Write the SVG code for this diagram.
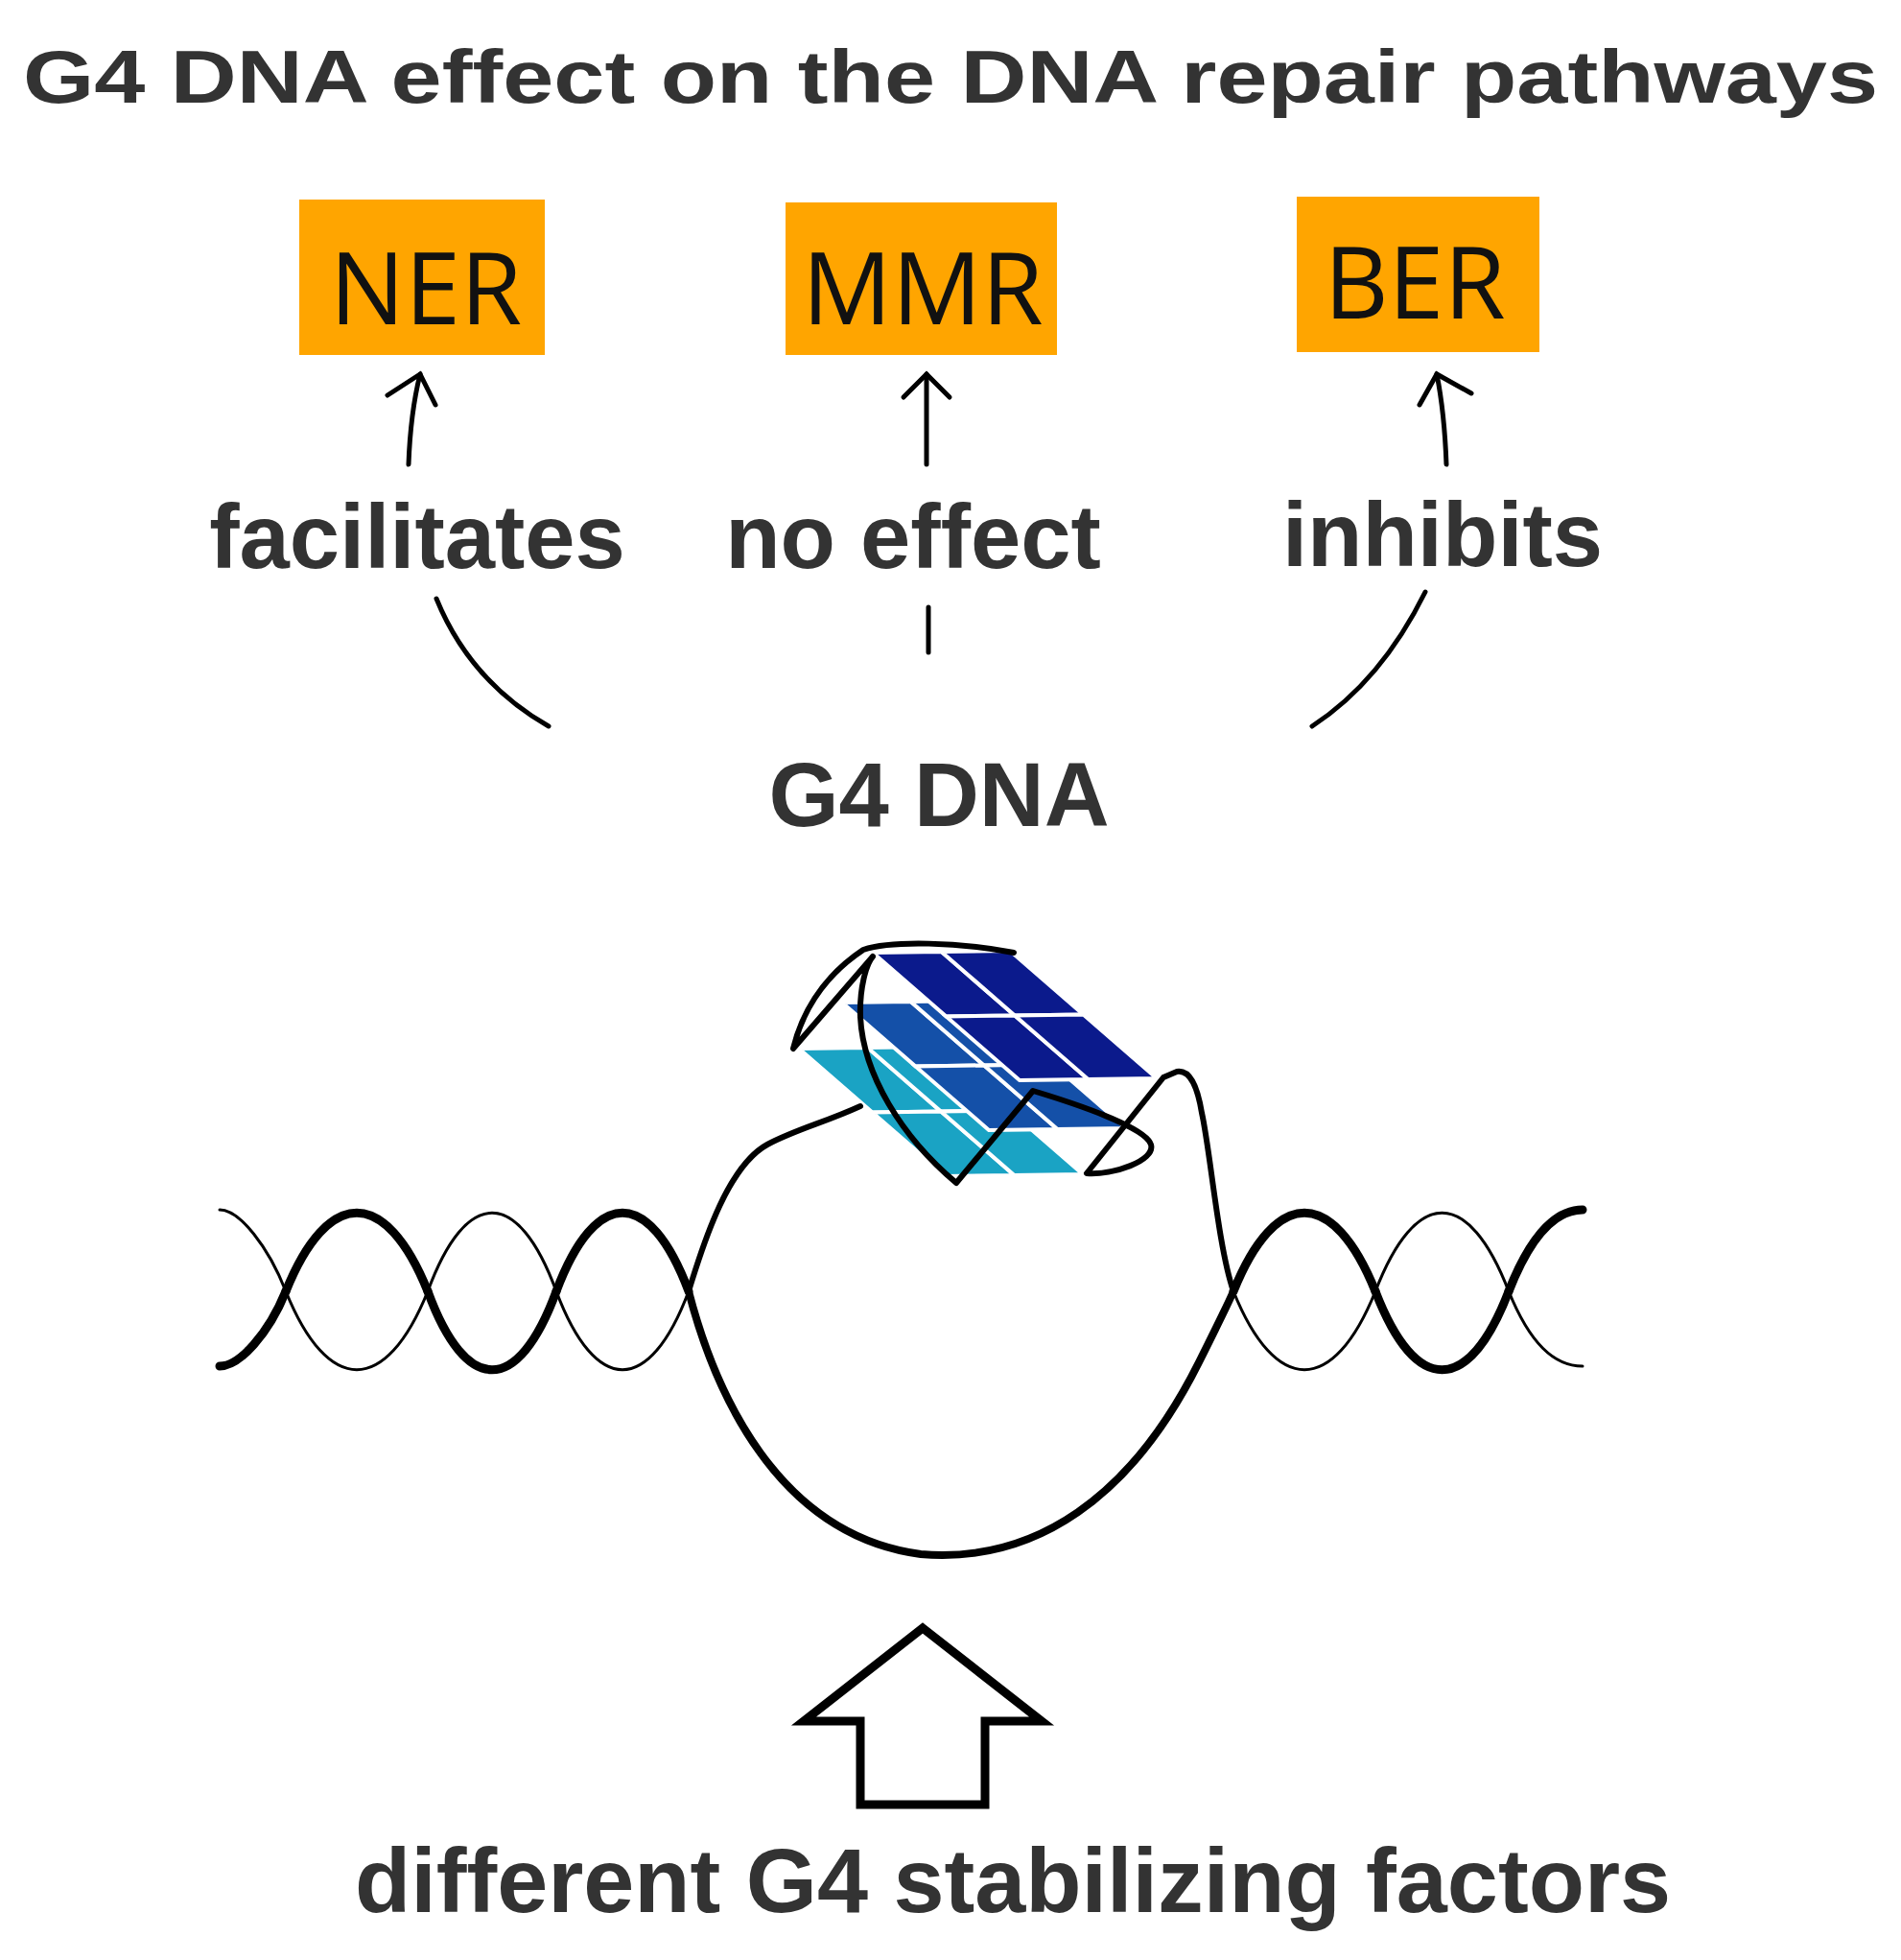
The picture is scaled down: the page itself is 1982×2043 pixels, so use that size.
<svg xmlns="http://www.w3.org/2000/svg" width="1982" height="2043" viewBox="0 0 1982 2043">
<style>
.lbl{font-family:"Liberation Sans",Arial,sans-serif;font-weight:bold;fill:#333;text-anchor:middle}
.box{fill:#ffa500}
.bt{font-family:"Open Sans","Liberation Sans",sans-serif;font-size:104px;fill:#111;text-anchor:middle}
.ln{fill:none;stroke:#000;stroke-width:5;stroke-linecap:round}
.s{fill:none;stroke:#000;stroke-linecap:round;stroke-linejoin:round}
.tile{stroke:#fff;stroke-width:4}
</style>
<defs>
<marker id="ah" markerWidth="20" markerHeight="20" refX="10" refY="10" orient="auto" markerUnits="userSpaceOnUse" viewBox="0 0 20 20">
<polyline points="0,0 10,10 0,20" transform="translate(-3,0) scale(1)" fill="none" stroke="#000" stroke-width="0"/>
</marker>
<g id="tier">
<polygon class="tile" points="0,0 71.5,-1 148,65.5 76.5,66.5"/>
<polygon class="tile" points="71.5,-1 143,-2 219.5,64.5 148,65.5"/>
<polygon class="tile" points="76.5,66.5 148,65.5 224.5,132 153,133"/>
<polygon class="tile" points="148,65.5 219.5,64.5 296,131 224.5,132"/>
</g>
</defs>
<rect width="1982" height="2043" fill="#fff"/>
<text id="title" class="lbl" x="991" y="107" font-size="78" textLength="1934" lengthAdjust="spacingAndGlyphs">G4 DNA effect on the DNA repair pathways</text>
<g id="ner"><rect class="box" x="312" y="208" width="256" height="162"/><text class="bt" x="444" y="338">NER</text></g>
<g id="mmr"><rect class="box" x="819" y="211" width="283" height="159"/><text class="bt" x="962" y="338">MMR</text></g>
<g id="ber"><rect class="box" x="1352" y="205" width="253" height="162"/><text class="bt" x="1475" y="332">BER</text></g>
<g id="labels">
<text class="lbl" x="435" y="592" font-size="94">facilitates</text>
<text class="lbl" x="952" y="592" font-size="94">no effect</text>
<text class="lbl" x="1504" y="590" font-size="94">inhibits</text>
<text class="lbl" x="979" y="861" font-size="94">G4 DNA</text>
<text class="lbl" x="1056" y="1993" font-size="94" textLength="1372" lengthAdjust="spacingAndGlyphs">different G4 stabilizing factors</text>
</g>
<g id="connectors">
<path class="ln" d="M426,484 Q428,430 438,390"/>
<polyline class="ln" points="404,412 438,390 454,422"/>
<path class="ln" d="M966,484 L966,390"/>
<polyline class="ln" points="942,414 966,390 990,414"/>
<path class="ln" d="M1508,484 Q1506,430 1498,390"/>
<polyline class="ln" points="1480,422 1498,390 1534,410"/>
<path class="ln" d="M455,624 Q490,710 572,757"/>
<path class="ln" d="M968,633 L968,680"/>
<path class="ln" d="M1486,617 Q1440,710 1368,757"/>
<path d="M962,1697 L1086,1794 L1027,1794 L1027,1881 L897,1881 L897,1794 L838,1794 Z" fill="none" stroke="#000" stroke-width="9" stroke-linejoin="miter"/>
</g>
<g id="helix-left">
<path class="s" stroke-width="9" d="M229,1424 C250,1424 280,1390 298,1346"/>
<path class="s" stroke-width="3" d="M229,1261 C250,1261 280,1300 298,1346"/>
<path class="s" stroke-width="9" d="M298,1346 C342,1237 402,1237 446,1346"/>
<path class="s" stroke-width="3" d="M298,1346 C342,1455 402,1455 446,1346"/>
<path class="s" stroke-width="9" d="M446,1346 C486,1455 540,1455 580,1346"/>
<path class="s" stroke-width="3" d="M446,1346 C486,1237 540,1237 580,1346"/>
<path class="s" stroke-width="9" d="M580,1346 C621,1237 677,1237 718,1346"/>
<path class="s" stroke-width="3" d="M580,1346 C621,1455 677,1455 718,1346"/>
</g>
<g id="helix-right">
<path class="s" stroke-width="9" d="M1286,1346 C1330,1237 1390,1237 1434,1346"/>
<path class="s" stroke-width="3" d="M1286,1346 C1330,1455 1390,1455 1434,1346"/>
<path class="s" stroke-width="9" d="M1434,1346 C1476,1455 1531,1455 1573,1346"/>
<path class="s" stroke-width="3" d="M1434,1346 C1476,1237 1531,1237 1573,1346"/>
<path class="s" stroke-width="9" d="M1573,1346 C1595,1290 1620,1261 1650,1261"/>
<path class="s" stroke-width="3" d="M1573,1346 C1595,1400 1620,1424 1650,1424"/>
</g>
<g id="g4">
<use href="#tier" transform="translate(833,1093)" fill="#1aa3c4"/>
<use href="#tier" transform="translate(878,1045)" fill="#1450a8"/>
<use href="#tier" transform="translate(910,993)" fill="#0b1a8c"/>
</g>
<g id="strands">
<path class="s" stroke-width="6" d="M718,1346 C735,1290 760,1215 800,1193 C830,1177 860,1170 897,1153"/>
<path class="s" stroke-width="8" d="M718,1346 C745,1450 810,1600 960,1620 C1080,1630 1180,1560 1250,1420 C1270,1380 1280,1360 1286,1346"/>
<path class="s" stroke-width="6" d="M1286,1346 C1270,1300 1262,1200 1253,1160 C1248,1130 1240,1115 1227,1117 L1213,1123 L1133,1223 C1160,1225 1205,1210 1200,1193 C1195,1175 1120,1150 1077,1137 L997,1233 C940,1185 900,1120 897,1060 C896,1030 903,1005 910,997 L827,1093 C835,1060 855,1020 900,990 C930,980 1000,982 1057,993"/>
</g>
</svg>
